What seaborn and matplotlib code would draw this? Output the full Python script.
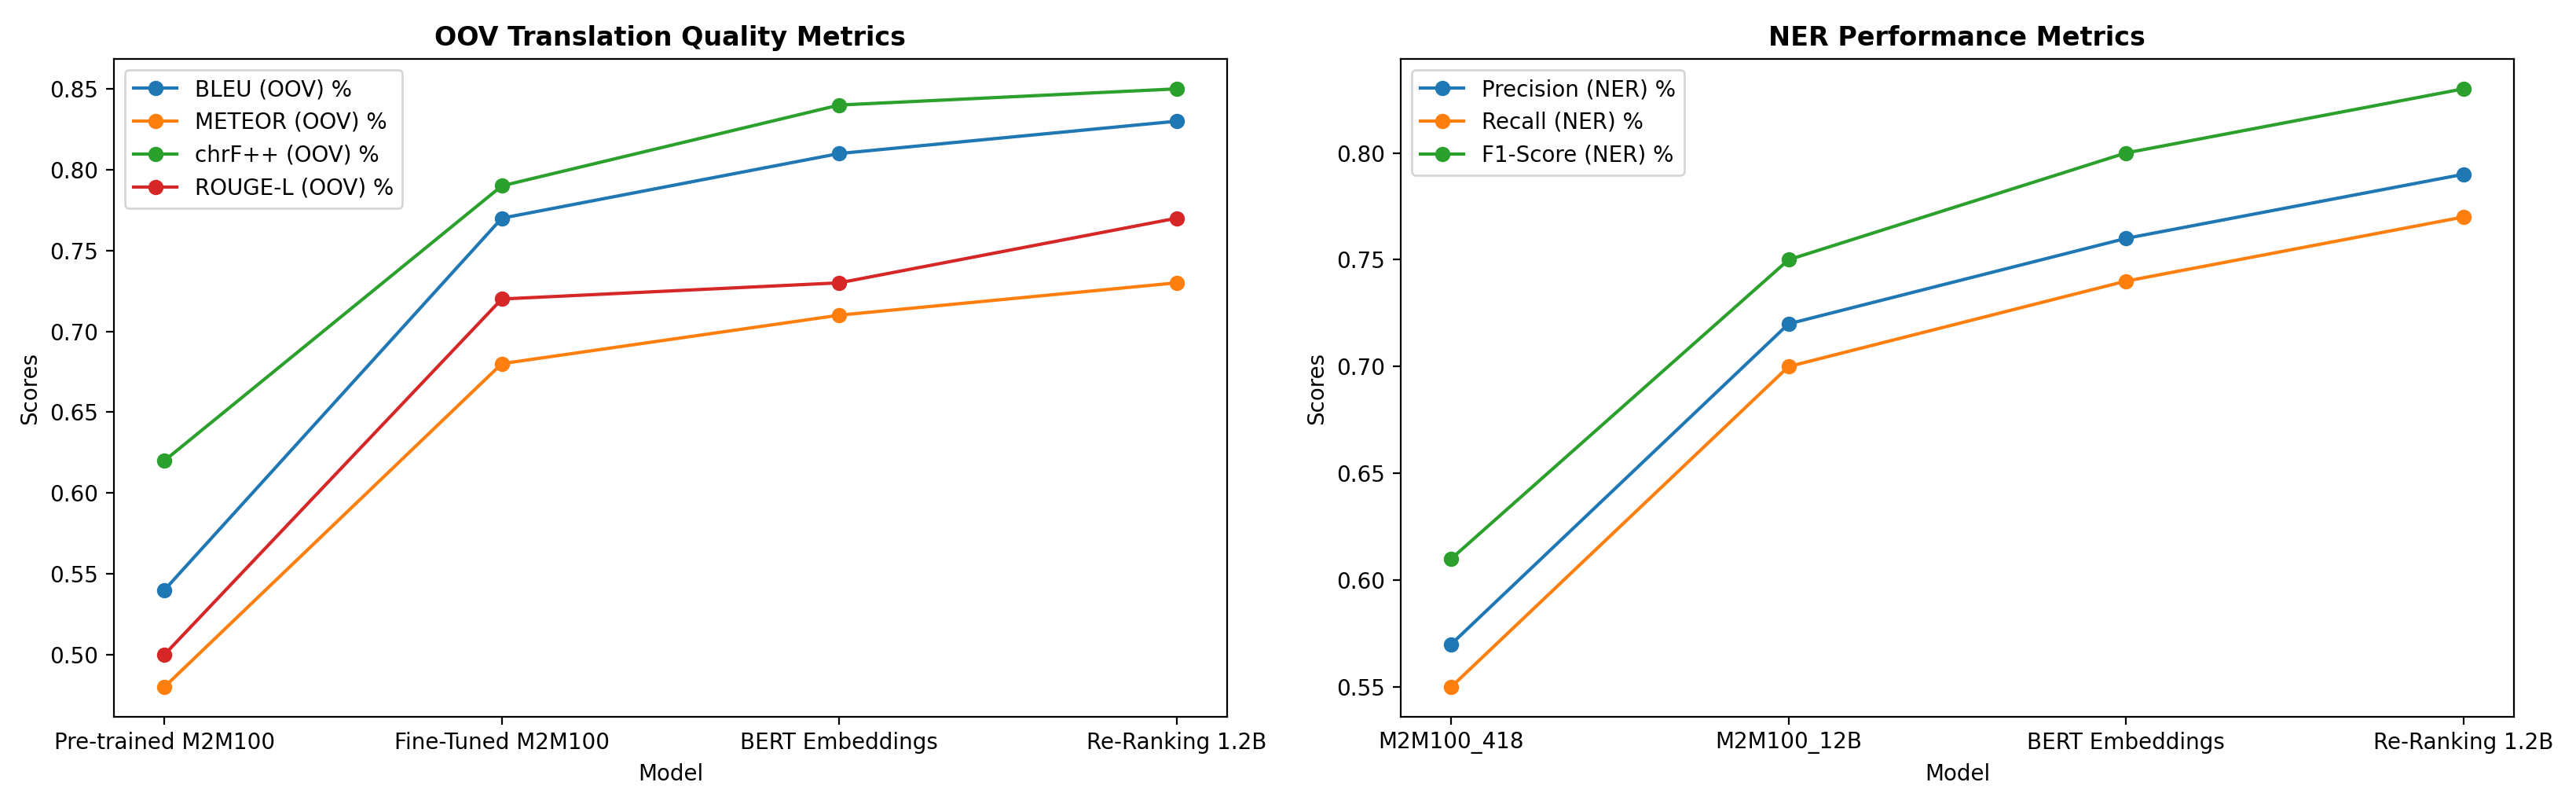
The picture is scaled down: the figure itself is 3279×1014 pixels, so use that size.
import matplotlib
matplotlib.use("Agg")
import matplotlib.pyplot as plt
import seaborn as sns
import pandas as pd

oov_models = ["Pre-trained M2M100", "Fine-Tuned M2M100", "BERT Embeddings", "Re-Ranking 1.2B"]
bleu = [0.54, 0.77, 0.81, 0.83]
meteor = [0.48, 0.68, 0.71, 0.73]
chrf = [0.62, 0.79, 0.84, 0.85]
rouge = [0.50, 0.72, 0.73, 0.77]

ner_models = ["M2M100_418", "M2M100_12B", "BERT Embeddings", "Re-Ranking 1.2B"]
precision = [0.57, 0.72, 0.76, 0.79]
recall = [0.55, 0.70, 0.74, 0.77]
f1 = [0.61, 0.75, 0.80, 0.83]

colors = ["#1f77b4", "#ff7f0e", "#2ca02c", "#d62728"]

fig, axes = plt.subplots(1, 2, figsize=(16.395, 5.07), dpi=200)
fig.subplots_adjust(left=0.0442, right=0.9759, top=0.926, bottom=0.1006, wspace=0.1558)

ax = axes[0]
for vals, lab, c in zip([bleu, meteor, chrf, rouge],
                        ["BLEU (OOV) %", "METEOR (OOV) %", "chrF++ (OOV) %", "ROUGE-L (OOV) %"], colors):
    df = pd.DataFrame({"Model": oov_models, "Score": vals})
    sns.lineplot(data=df, x="Model", y="Score", marker="o", color=c, label=lab, ax=ax,
                 markersize=6, markeredgewidth=1, markeredgecolor=c, sort=False)
ax.set_title("OOV Translation Quality Metrics", fontweight="bold")
ax.set_xlabel("Model")
ax.set_ylabel("Scores")
ax.legend(loc="upper left")

ax = axes[1]
for vals, lab, c in zip([precision, recall, f1],
                        ["Precision (NER) %", "Recall (NER) %", "F1-Score (NER) %"], colors):
    df = pd.DataFrame({"Model": ner_models, "Score": vals})
    sns.lineplot(data=df, x="Model", y="Score", marker="o", color=c, label=lab, ax=ax,
                 markersize=6, markeredgewidth=1, markeredgecolor=c, sort=False)
ax.set_title("NER Performance Metrics", fontweight="bold")
ax.set_xlabel("Model")
ax.set_ylabel("Scores")
ax.legend(loc="upper left")

plt.savefig("out.png", dpi=200)
